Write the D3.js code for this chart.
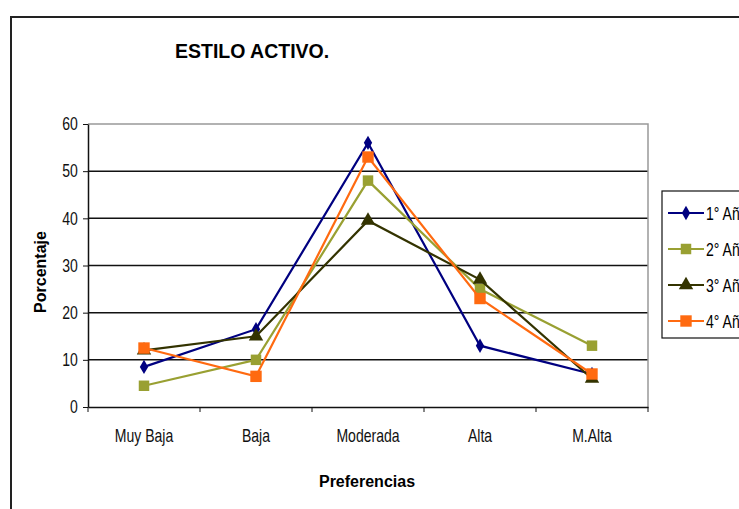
<!DOCTYPE html>
<html lang="es">
<head>
    <meta charset="UTF-8">
    <title>Estilo Activo</title>
    <script src="https://d3js.org/d3.v7.min.js"></script>
    <style>
        body {
            margin: 0;
            padding: 0;
            background: #fff;
            font-family: "Liberation Sans", Arial, sans-serif;
        }
        .tick text {
            font-size: 18px;
            fill: #111;
        }
        .title {
            font-size: 19.5px;
            font-weight: bold;
        }
        .axisTitle {
            font-size: 16px;
            font-weight: bold;
        }
        .legendText {
            font-size: 18px;
        }
    </style>
</head>
<body>
    <div id="canvas"></div>
    <script>
        // datos
        var categorias = ["Muy Baja", "Baja", "Moderada", "Alta", "M.Alta"];
        var nombres = ["1° Año", "2° Año", "3° Año", "4° Año"];
        var anio1 = [8.5, 16.5, 56, 13, 7];
        var anio2 = [4.5, 10, 48, 25, 13];
        var anio3 = [12, 15, 39.5, 27, 6];
        var anio4 = [12.5, 6.5, 53, 23, 7];
        var yTicks = [0, 10, 20, 30, 40, 50, 60];

        var series = [anio1, anio2, anio3, anio4];
        var colores = ["#000080", "#99a032", "#333300", "#ff6a10"];
        var simbolos = [d3.symbolDiamond, d3.symbolSquare, d3.symbolTriangle, d3.symbolSquare];
        var tamanos = [60, 110, 90, 130];

        var W = 739, H = 509;
        var margin = {top: 124, left: 88},
            width = 560,
            height = 283;

        var svg = d3.select("#canvas")
            .append("svg")
            .attr("width", W)
            .attr("height", H);

        // marco exterior
        svg.append("path")
            .attr("d", "M11," + H + "V17H" + W)
            .style("fill", "none")
            .style("stroke", "#222")
            .style("stroke-width", 2);

        var g = svg.append("g")
            .attr("transform", "translate(" + margin.left + "," + margin.top + ")");

        var x = d3.scaleBand()
            .domain(categorias)
            .range([0, width]);

        var y = d3.scaleLinear()
            .domain([0, 60])
            .range([height, 0]);

        // lineas de division
        g.selectAll(".grid")
            .data(yTicks.filter(function(d) { return d > 0 && d < 60; }))
            .enter().append("line")
            .attr("x1", 0)
            .attr("x2", width)
            .attr("y1", function(d) { return y(d); })
            .attr("y2", function(d) { return y(d); })
            .style("stroke", "#111")
            .style("stroke-width", 1.5);

        // borde gris superior y derecho
        g.append("path")
            .attr("d", "M0," + y(60) + "H" + width + "V" + height)
            .style("fill", "none")
            .style("stroke", "#999")
            .style("stroke-width", 1.5);

        // eje X
        var xAxis = g.append("g")
            .attr("transform", "translate(0," + height + ")")
            .call(d3.axisBottom(x).tickSize(0).tickPadding(22));
        xAxis.select(".domain").style("stroke", "#111").style("stroke-width", 1.5);
        xAxis.selectAll(".tick text").attr("transform", "scale(0.78,1)");
        xAxis.selectAll(".sep")
            .data(d3.range(categorias.length + 1))
            .enter().append("line")
            .attr("x1", function(i) { return i * x.step(); })
            .attr("x2", function(i) { return i * x.step(); })
            .attr("y1", 0)
            .attr("y2", 5)
            .style("stroke", "#111");

        // eje Y
        var yAxis = g.append("g")
            .call(d3.axisLeft(y).tickValues(yTicks).tickSize(5).tickSizeOuter(0).tickPadding(8));
        yAxis.select(".domain").style("stroke", "#111").style("stroke-width", 1.5);
        yAxis.selectAll(".tick line").style("stroke", "#111");
        yAxis.selectAll(".tick text").attr("transform", "scale(0.78,1)");

        // titulos
        svg.append("text")
            .attr("class", "title")
            .attr("x", 175)
            .attr("y", 58)
            .text("ESTILO ACTIVO.");

        svg.append("text")
            .attr("class", "axisTitle")
            .attr("text-anchor", "middle")
            .attr("transform", "translate(46,272) rotate(-90)")
            .text("Porcentaje");

        svg.append("text")
            .attr("class", "axisTitle")
            .attr("text-anchor", "middle")
            .attr("x", 367)
            .attr("y", 487)
            .text("Preferencias");

        var linea = d3.line()
            .x(function(d, i) { return x(categorias[i]) + x.bandwidth() / 2; })
            .y(function(d) { return y(d); });

        series.forEach(function(s, k) {
            g.append("path")
                .datum(s)
                .attr("d", linea)
                .style("fill", "none")
                .style("stroke", colores[k])
                .style("stroke-width", 2.2);

            g.selectAll(".m" + k)
                .data(s)
                .enter().append("path")
                .attr("d", d3.symbol().type(simbolos[k]).size(tamanos[k]))
                .attr("transform", function(d, i) {
                    return "translate(" + (x(categorias[i]) + x.bandwidth() / 2) + "," + y(d) + ")";
                })
                .style("fill", colores[k]);
        });

        // leyenda
        var leyenda = svg.append("g")
            .attr("transform", "translate(662,191)");

        leyenda.append("rect")
            .attr("width", 90)
            .attr("height", 147)
            .style("fill", "#fff")
            .style("stroke", "#111")
            .style("stroke-width", 1.2);

        nombres.forEach(function(n, k) {
            var fila = leyenda.append("g")
                .attr("transform", "translate(0," + (22 + k * 36) + ")");
            fila.append("line")
                .attr("x1", 6)
                .attr("x2", 42)
                .style("stroke", colores[k])
                .style("stroke-width", 2.2);
            fila.append("path")
                .attr("d", d3.symbol().type(simbolos[k]).size(tamanos[k]))
                .attr("transform", "translate(24,0)")
                .style("fill", colores[k]);
            fila.append("text")
                .attr("class", "legendText")
                .attr("transform", "translate(44,7) scale(0.78,1)")
                .text(n);
        });
    </script>
</body>
</html>
